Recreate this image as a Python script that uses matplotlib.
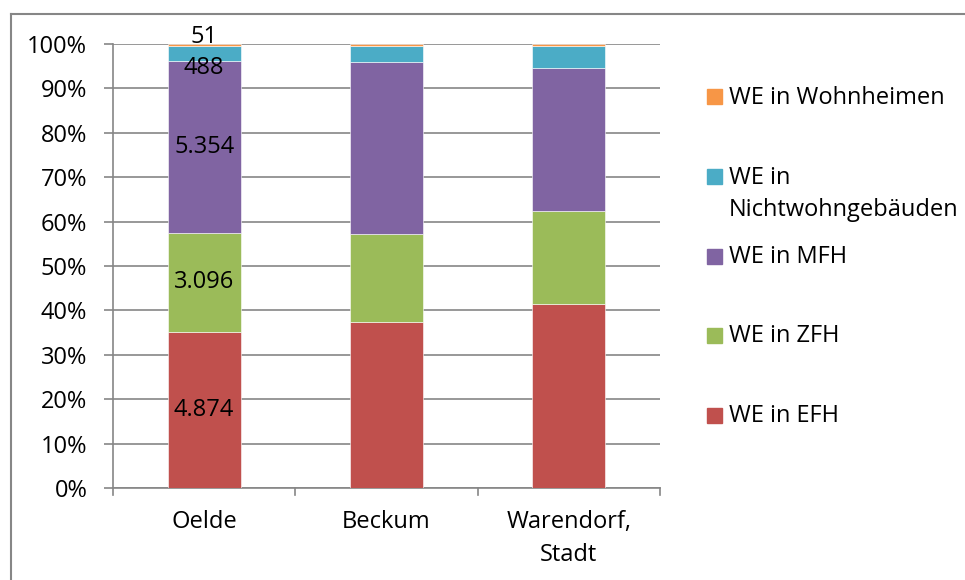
import matplotlib
matplotlib.use("Agg")
import matplotlib.pyplot as plt
import numpy as np
from matplotlib.lines import Line2D
from matplotlib.patches import Rectangle

plt.rcParams["font.family"] = ["Open Sans", "DejaVu Sans"]

# ==============================
# DATA (shares in %)
# ==============================

orte = ["Oelde", "Beckum", "Warendorf,\nStadt"]

serien = ["WE in EFH", "WE in ZFH", "WE in MFH",
          "WE in Nichtwohngebäuden", "WE in Wohnheimen"]
legend_labels = ["WE in EFH", "WE in ZFH", "WE in MFH",
                 "WE in\nNichtwohngebäuden", "WE in Wohnheimen"]

efh = [35.2, 37.4, 41.5]
zfh = [22.3, 19.9, 20.9]
mfh = [38.6, 38.7, 32.3]
nichtwohn = [3.5, 3.5, 4.9]
wohnheime = [0.4, 0.5, 0.4]

# absolute counts shown as labels (only Oelde)
oelde_labels = ["4.874", "3.096", "5.354", "488", "51"]

farben = ["#C0504D", "#9BBB59", "#8064A2", "#4BACC6", "#F79646"]

# ==============================
# PLOT
# ==============================

W, H = 965, 580
fig = plt.figure(figsize=(W / 100, H / 100), dpi=100)
ax = fig.add_axes([113 / W, 1 - 488 / H, 547 / W, 444 / H])

x = np.arange(len(orte))
werte = [efh, zfh, mfh, nichtwohn, wohnheime]
bottom = np.zeros(len(orte))
bars = []
for vals, name, col in zip(werte, serien, farben):
    b = ax.bar(x, vals, width=0.4, bottom=bottom, color=col, label=name,
               edgecolor="white", linewidth=0.4, zorder=3)
    bars.append(b)
    bottom = bottom + np.array(vals)

# labels for Oelde
fs = 17
for i, b in enumerate(bars):
    r = b[0]
    cy = r.get_y() + r.get_height() / 2
    if i == 3:
        cy = r.get_y() - 1.6
    if i == 4:
        cy = 101.5
    ax.text(r.get_x() + r.get_width() / 2, cy, oelde_labels[i],
            ha="center", va="center", fontsize=fs, color="black", zorder=4)

ax.set_xlim(-0.5, 2.5)
ax.set_ylim(0, 100)
ax.set_yticks(np.arange(0, 101, 10))
ax.set_yticklabels([f"{v}%" for v in range(0, 101, 10)], fontsize=fs)
ax.set_xticks(x)
ax.set_xticklabels(orte, fontsize=fs, linespacing=1.55)
ax.tick_params(axis="x", length=0, pad=15.5)
ax.tick_params(axis="y", length=6.5, width=1.2, color="#868686", pad=12)

# category separator ticks
for sep in [-0.5, 0.5, 1.5, 2.5]:
    ax.plot([sep, sep], [0, -1.6], color="#868686", lw=1.2, clip_on=False)

ax.yaxis.grid(True, color="#868686", lw=1.2, zorder=0)
for s in ["top", "right"]:
    ax.spines[s].set_visible(False)
for s in ["left", "bottom"]:
    ax.spines[s].set_color("#868686")
    ax.spines[s].set_linewidth(1.2)
ax.set_axisbelow(True)

# ==============================
# LEGEND (drawn by hand, top entry = last series)
# ==============================

leg_y = [415.5, 335.5, 256, 176.5, 96.5]
for lab, col, yc in zip(legend_labels, farben, leg_y):
    fig.add_artist(Rectangle((707 / W, 1 - (yc + 7.5) / H), 15 / W, 15 / H,
                             transform=fig.transFigure, color=col))
    fig.text(729 / W, 1 - (yc - 11) / H, lab, fontsize=fs, ha="left",
             va="top", linespacing=1.5)

# chart frame (top and left only visible)
fig.add_artist(Line2D([0.0114, 1.0], [0.976, 0.976], color="#868686", lw=1.5))
fig.add_artist(Line2D([0.0114, 0.0114], [0.0, 0.976], color="#868686", lw=1.5))

fig.savefig("out.png", dpi=100)
